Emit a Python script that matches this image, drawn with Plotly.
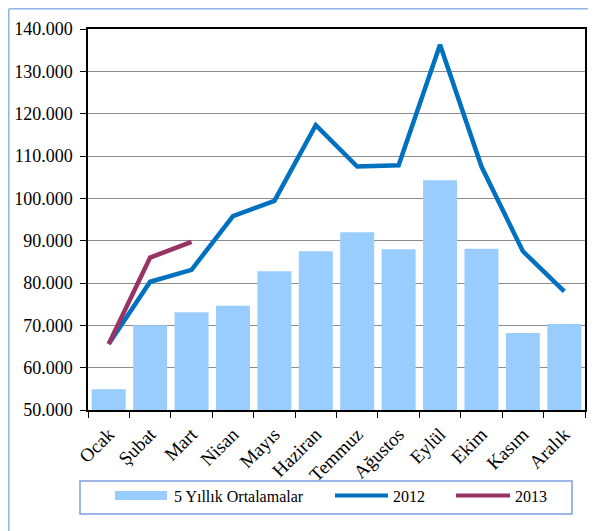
import plotly.graph_objects as go

months = ["Ocak", "Şubat", "Mart", "Nisan", "Mayıs", "Haziran", "Temmuz",
          "Ağustos", "Eylül", "Ekim", "Kasım", "Aralık"]
avg5 = [54.9, 70.0, 73.1, 74.6, 82.8, 87.5, 92.0, 88.0, 104.3, 88.1, 68.2, 70.3]
y2012 = [65.6, 80.3, 83.1, 95.8, 99.4, 117.3, 107.5, 107.8, 136.3, 107.5, 87.5, 78.0]
y2013 = [65.6, 86.0, 89.7]
yticks = [50, 60, 70, 80, 90, 100, 110, 120, 130, 140]
yticklabels = ["50.000", "60.000", "70.000", "80.000", "90.000", "100.000",
               "110.000", "120.000", "130.000", "140.000"]
legend_names = ["5 Yıllık Ortalamalar", "2012", "2013"]

FONT = "Liberation Serif"
C_BAR, C_2012, C_2013 = "#99ccff", "#0070c0", "#993366"

fig = go.Figure()
fig.add_trace(go.Bar(x=months, y=avg5, name=legend_names[0],
                     marker=dict(color=C_BAR, line=dict(width=0))))
fig.add_trace(go.Scatter(x=months, y=y2012, name=legend_names[1], mode="lines",
                         line=dict(color=C_2012, width=4.5)))
fig.add_trace(go.Scatter(x=months[:3], y=y2013, name=legend_names[2], mode="lines",
                         line=dict(color=C_2013, width=4.5)))

# page body has an 8px margin: figure pixel = screen pixel - 8
OFF = 8
W, H = 596 - OFF, 531 - OFF
L, T = 88 - OFF, 29 - OFF
R = W - (585 - OFF)
B = H - (410 - OFF)
pw, ph = W - L - R, H - T - B

def px(x):
    return (x - OFF - L) / pw

def py(y):
    return (H - B - (y - OFF)) / ph

shapes = [
    # outer chart border (left and top visible)
    dict(type="line", xref="paper", yref="paper", x0=px(8.8), x1=px(620),
         y0=py(8.8), y1=py(8.8), line=dict(color="#8eb4e3", width=1.5)),
    dict(type="line", xref="paper", yref="paper", x0=px(8.8), x1=px(8.8),
         y0=py(8.8), y1=py(560), line=dict(color="#8eb4e3", width=1.5)),
    # legend box
    dict(type="rect", xref="paper", yref="paper", x0=px(80), x1=px(572),
         y0=py(481), y1=py(514), line=dict(color="#7f9fdf", width=1.5),
         fillcolor="white"),
    # legend swatches
    dict(type="rect", xref="paper", yref="paper", x0=px(115), x1=px(167),
         y0=py(491), y1=py(500), line=dict(width=0), fillcolor=C_BAR),
    dict(type="line", xref="paper", yref="paper", x0=px(335), x1=px(388),
         y0=py(495.5), y1=py(495.5), line=dict(color=C_2012, width=4)),
    dict(type="line", xref="paper", yref="paper", x0=px(456), x1=px(510),
         y0=py(495.5), y1=py(495.5), line=dict(color=C_2013, width=4)),
]
annotations = [
    dict(xref="paper", yref="paper", x=px(x), y=py(496), text=t, showarrow=False,
         xanchor="left", yanchor="middle", font=dict(family=FONT, size=16, color="black"))
    for x, t in zip([172, 391, 513], legend_names)
]

fig.update_layout(
    width=W, height=H,
    margin=dict(l=L, r=R, t=T, b=B, autoexpand=False),
    paper_bgcolor="white", plot_bgcolor="white",
    font=dict(family=FONT, size=18, color="black"),
    bargap=0.18,
    showlegend=False,
    xaxis=dict(type="category", showline=True, linecolor="black", linewidth=1.5,
               mirror=True, ticks="outside", ticklen=6, tickcolor="black",
               tickson="boundaries", tickangle=-45, showgrid=False, automargin=False,
               ticklabelstandoff=4, tickfont=dict(family=FONT, size=19)),
    yaxis=dict(range=[50, 140], tickvals=yticks, ticktext=yticklabels,
               showline=True, linecolor="black", linewidth=1.5, mirror=True,
               ticks="outside", ticklen=6, tickcolor="black", automargin=False,
               ticklabelstandoff=4,
               showgrid=True, gridcolor="#8c8c8c", gridwidth=1,
               zeroline=False, tickfont=dict(family=FONT, size=18)),
    shapes=shapes,
    annotations=annotations,
)

fig.write_html("out.html")
